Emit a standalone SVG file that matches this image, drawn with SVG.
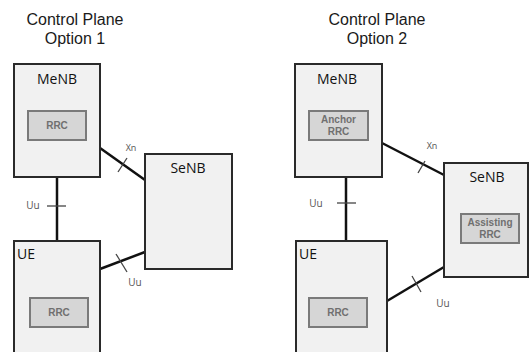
<svg xmlns="http://www.w3.org/2000/svg" width="529" height="352" viewBox="0 0 529 352">
<style>
.bg{fill:#ffffff}
.box{fill:#f1f1f1;stroke:#2a2a2a;stroke-width:2}
.inner{fill:#d6d6d6;stroke:#7a7a7a;stroke-width:2}
.title{font-family:"Liberation Sans",Arial,sans-serif;font-size:16px;fill:#1a1a1a;text-anchor:middle}
.lbl{font-family:"Open Sans","Liberation Sans",sans-serif;font-size:14px;fill:#111111}
.rrc{font-family:"Liberation Sans",Arial,sans-serif;font-size:10px;font-weight:bold;fill:#707070;text-anchor:middle}
.small{font-family:"Open Sans","Liberation Sans",sans-serif;font-size:9px;fill:#555555;text-anchor:middle}
.link{stroke:#111111;stroke-width:2.5;fill:none}
.tick{stroke:#444444;stroke-width:1.3;fill:none}
</style>
<rect class="bg" x="0" y="0" width="529" height="352"/>
<g id="titles">
<text class="title" x="75" y="25">Control Plane</text>
<text class="title" x="75" y="44">Option 1</text>
<text class="title" x="377" y="25">Control Plane</text>
<text class="title" x="377" y="44">Option 2</text>
</g>
<g id="connectors">
<line class="link" x1="100" y1="148" x2="145" y2="180"/>
<line class="tick" x1="118" y1="172" x2="127" y2="158"/>
<text class="small" x="131" y="151">Xn</text>
<line class="link" x1="57" y1="177" x2="57" y2="241"/>
<line class="tick" x1="47" y1="206" x2="66" y2="206"/>
<text class="small" x="33" y="209" style="font-size:10px">Uu</text>
<line class="link" x1="100" y1="269" x2="145" y2="252"/>
<line class="tick" x1="116" y1="254" x2="127" y2="272"/>
<text class="small" x="135" y="286" style="font-size:10px">Uu</text>
<line class="link" x1="382" y1="143" x2="444" y2="175"/>
<line class="tick" x1="418" y1="173" x2="425" y2="161"/>
<text class="small" x="432" y="149">Xn</text>
<line class="link" x1="346" y1="177" x2="346" y2="241"/>
<line class="tick" x1="337" y1="203" x2="356" y2="203"/>
<text class="small" x="316" y="207" style="font-size:10px">Uu</text>
<line class="link" x1="387" y1="301" x2="444" y2="267"/>
<line class="tick" x1="412" y1="276" x2="421" y2="292"/>
<text class="small" x="443" y="307" style="font-size:10px">Uu</text>
</g>
<g id="menb1">
<rect class="box" x="14" y="64" width="86" height="113"/>
<text class="lbl" x="57" y="84" text-anchor="middle">MeNB</text>
<rect class="inner" x="28" y="111" width="58" height="29"/>
<text class="rrc" x="57" y="129">RRC</text>
</g>
<g id="senb1">
<rect class="box" x="145" y="154" width="87" height="115"/>
<text class="lbl" x="188" y="173" text-anchor="middle">SeNB</text>
</g>
<g id="ue1">
<rect class="box" x="14" y="241" width="86" height="125"/>
<text class="lbl" x="17" y="259">UE</text>
<rect class="inner" x="30" y="298" width="58" height="29"/>
<text class="rrc" x="59" y="316">RRC</text>
</g>
<g id="menb2">
<rect class="box" x="295" y="64" width="87" height="113"/>
<text class="lbl" x="337" y="84" text-anchor="middle">MeNB</text>
<rect class="inner" x="309" y="111" width="59" height="29"/>
<text class="rrc" x="338.5" y="123">Anchor</text>
<text class="rrc" x="338.5" y="135">RRC</text>
</g>
<g id="senb2">
<rect class="box" x="444" y="163" width="84" height="114"/>
<text class="lbl" x="487" y="182" text-anchor="middle">SeNB</text>
<rect class="inner" x="461" y="214" width="58" height="29"/>
<text class="rrc" x="490" y="226">Assisting</text>
<text class="rrc" x="490" y="238">RRC</text>
</g>
<g id="ue2">
<rect class="box" x="296" y="241" width="91" height="125"/>
<text class="lbl" x="299" y="259">UE</text>
<rect class="inner" x="309" y="298" width="58" height="29"/>
<text class="rrc" x="338" y="316">RRC</text>
</g>
</svg>
